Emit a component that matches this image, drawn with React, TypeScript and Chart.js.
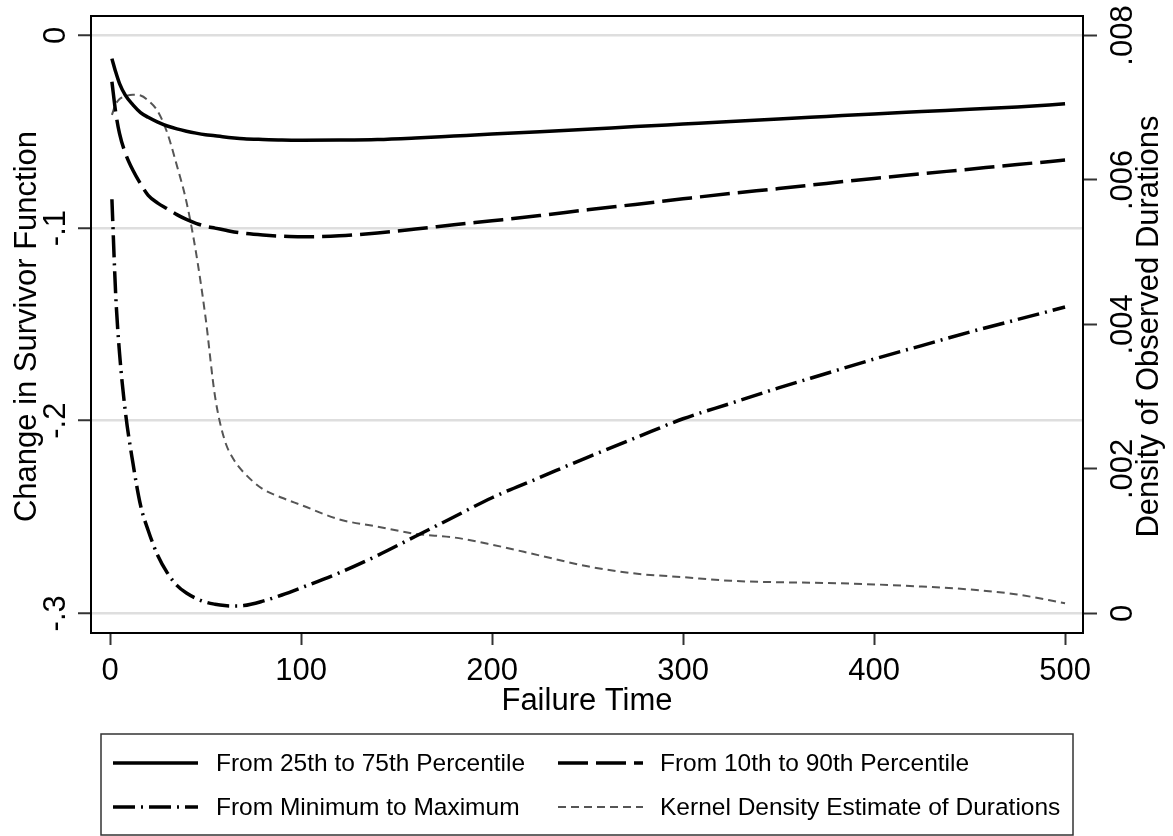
import React, { useEffect, useRef } from "react";
import { Chart, registerables } from "chart.js";

Chart.register(...registerables);

// ---------- data ----------
const times = [1, 3, 5, 8, 12, 16, 20, 25, 30, 35, 40, 45, 50, 55, 60, 65, 70, 80, 90, 100, 120, 140, 160, 180, 200, 225, 250, 275, 300, 325, 350, 375, 400, 425, 450, 475, 500];

const p25to75 = [-0.012, -0.019, -0.025, -0.031, -0.036, -0.040, -0.0425, -0.045, -0.047, -0.0485, -0.0497, -0.0507, -0.0515, -0.052, -0.0527, -0.0532, -0.0536, -0.054, -0.0543, -0.0544, -0.0543, -0.054, -0.0532, -0.0522, -0.0512, -0.050, -0.0487, -0.0473, -0.046, -0.0447, -0.0433, -0.042, -0.0407, -0.0395, -0.0383, -0.0371, -0.0355];

const p10to90 = [-0.024, -0.040, -0.051, -0.061, -0.070, -0.077, -0.083, -0.087, -0.090, -0.093, -0.0955, -0.0975, -0.099, -0.100, -0.101, -0.102, -0.1027, -0.1036, -0.1042, -0.1045, -0.1040, -0.1025, -0.1005, -0.0983, -0.0962, -0.0935, -0.0905, -0.0877, -0.0848, -0.082, -0.0795, -0.0768, -0.0742, -0.0718, -0.0694, -0.067, -0.0647];

const minToMax = [-0.085, -0.135, -0.165, -0.195, -0.222, -0.244, -0.257, -0.270, -0.279, -0.2855, -0.2895, -0.2922, -0.2942, -0.2953, -0.296, -0.2962, -0.296, -0.2937, -0.2905, -0.2868, -0.279, -0.270, -0.260, -0.250, -0.240, -0.2295, -0.219, -0.209, -0.199, -0.191, -0.183, -0.1755, -0.168, -0.161, -0.154, -0.1475, -0.141];

const kernelDensity = [0.0069, 0.00705, 0.00712, 0.00716, 0.00718, 0.00717, 0.0071, 0.00695, 0.00665, 0.0062, 0.0057, 0.0050, 0.0041, 0.0030, 0.0024, 0.00212, 0.00195, 0.00172, 0.0016, 0.0015, 0.0013, 0.0012, 0.0011, 0.00105, 0.00095, 0.0008, 0.00065, 0.00055, 0.0005, 0.00045, 0.00043, 0.00042, 0.0004, 0.00037, 0.00033, 0.00026, 0.00014];

const seriesNames = [
  "From 25th to 75th Percentile",
  "From 10th to 90th Percentile",
  "From Minimum to Maximum",
  "Kernel Density Estimate of Durations",
];

const xTicks = [0, 100, 200, 300, 400, 500];
const xTickLabels = ["0", "100", "200", "300", "400", "500"];
const yLeftTicks = [0, -0.1, -0.2, -0.3];
const yLeftLabels = ["0", "-.1", "-.2", "-.3"];
const yRightTicks = [0, 0.002, 0.004, 0.006, 0.008];
const yRightLabels = ["0", ".002", ".004", ".006", ".008"];

const xTitle = "Failure Time";
const yLeftTitle = "Change in Survivor Function";
const yRightTitle = "Density of Observed Durations";

const FONT = "'Liberation Sans', Arial, Helvetica, sans-serif";

const toPoints = (ys: number[]) => times.map((t, i) => ({ x: t, y: ys[i] }));

const decorPlugin = {
  id: "decor",
  afterDraw(chart: any) {
    const ctx = chart.ctx as CanvasRenderingContext2D;
    const area = chart.chartArea;
    const sx = chart.scales.x;
    const sy = chart.scales.y;
    const sy2 = chart.scales.y2;
    ctx.save();

    // plot box
    ctx.strokeStyle = "#000";
    ctx.lineWidth = 2;
    ctx.setLineDash([]);
    ctx.strokeRect(area.left, area.top, area.right - area.left, area.bottom - area.top);

    ctx.fillStyle = "#000";
    ctx.font = `31px ${FONT}`;

    // x tick labels
    ctx.textAlign = "center";
    ctx.textBaseline = "alphabetic";
    xTicks.forEach((v, i) => {
      ctx.fillText(xTickLabels[i], sx.getPixelForValue(v), 680);
    });

    // rotated y tick labels
    const rotText = (text: string, x: number, y: number) => {
      ctx.save();
      ctx.translate(x, y);
      ctx.rotate(-Math.PI / 2);
      ctx.textAlign = "center";
      ctx.textBaseline = "alphabetic";
      ctx.fillText(text, 0, 0);
      ctx.restore();
    };
    yLeftTicks.forEach((v, i) => rotText(yLeftLabels[i], 65, sy.getPixelForValue(v)));
    yRightTicks.forEach((v, i) => rotText(yRightLabels[i], 1132, sy2.getPixelForValue(v)));

    // axis titles
    ctx.font = `31px ${FONT}`;
    const midY = (area.top + area.bottom) / 2;
    rotText(yLeftTitle, 36, midY + 2);
    rotText(yRightTitle, 1158, midY + 2);
    ctx.textAlign = "center";
    ctx.textBaseline = "alphabetic";
    ctx.fillText(xTitle, (area.left + area.right) / 2, 710);

    // legend
    const lx = 101, ly = 734, lw = 972, lh = 101;
    ctx.strokeStyle = "#333";
    ctx.lineWidth = 1.5;
    ctx.strokeRect(lx, ly, lw, lh);
    const slots = [
      { x0: 113, x1: 198, tx: 216, y: 763 },
      { x0: 558, x1: 643, tx: 660, y: 763 },
      { x0: 113, x1: 198, tx: 216, y: 807 },
      { x0: 558, x1: 643, tx: 660, y: 807 },
    ];
    ctx.font = `24.5px ${FONT}`;
    chart.data.datasets.forEach((ds: any, i: number) => {
      const s = slots[i];
      ctx.save();
      ctx.strokeStyle = ds.borderColor;
      ctx.lineWidth = ds.borderWidth;
      ctx.setLineDash(ds.borderDash || []);
      ctx.lineCap = "butt";
      ctx.beginPath();
      ctx.moveTo(s.x0, s.y);
      ctx.lineTo(s.x1, s.y);
      ctx.stroke();
      ctx.restore();
      ctx.fillStyle = "#000";
      ctx.textAlign = "left";
      ctx.textBaseline = "middle";
      ctx.fillText(ds.label, s.tx, s.y + 1);
    });

    ctx.restore();
  },
};

export default function App() {
  const ref = useRef<HTMLCanvasElement | null>(null);

  useEffect(() => {
    document.body.style.margin = "0";
    const canvas = ref.current;
    if (!canvas) return;
    const common = { pointRadius: 0, pointHoverRadius: 0, fill: false, cubicInterpolationMode: "monotone" as const };
    const chart = new Chart(canvas, {
      type: "line",
      data: {
        datasets: [
          { label: seriesNames[0], data: toPoints(p25to75), borderColor: "#000", borderWidth: 3.5, yAxisID: "y", ...common },
          { label: seriesNames[1], data: toPoints(p10to90), borderColor: "#000", borderWidth: 3.5, borderDash: [30, 8], yAxisID: "y", ...common },
          { label: seriesNames[2], data: toPoints(minToMax), borderColor: "#000", borderWidth: 3.5, borderDash: [22, 6, 2, 6], yAxisID: "y", ...common },
          { label: seriesNames[3], data: toPoints(kernelDensity), borderColor: "#555", borderWidth: 2, borderDash: [8, 5], yAxisID: "y2", ...common },
        ],
      },
      options: {
        responsive: false,
        animation: false,
        events: [],
        layout: { padding: { top: 16, left: 0, right: 0, bottom: 0 } },
        plugins: { legend: { display: false }, tooltip: { enabled: false } },
        scales: {
          x: {
            type: "linear",
            min: -9.95,
            max: 509.4,
            afterBuildTicks: (s: any) => { s.ticks = xTicks.map((v) => ({ value: v })); },
            afterFit: (s: any) => { s.height = 203; },
            grid: { drawOnChartArea: false, drawTicks: true, tickLength: 12, tickColor: "#333", tickWidth: 2 },
            border: { display: false },
            ticks: { display: false },
          },
          y: {
            position: "left",
            min: -0.31023,
            max: 0.01012,
            afterBuildTicks: (s: any) => { s.ticks = yLeftTicks.map((v) => ({ value: v })); },
            afterFit: (s: any) => { s.width = 91; },
            grid: { color: "#dedede", lineWidth: 2.5, tickLength: 13, tickColor: "#333", tickWidth: 2 },
            border: { display: false },
            ticks: { display: false },
          },
          y2: {
            position: "right",
            min: -0.000273,
            max: 0.00827,
            afterBuildTicks: (s: any) => { s.ticks = yRightTicks.map((v) => ({ value: v })); },
            afterFit: (s: any) => { s.width = 90; },
            grid: { drawOnChartArea: false, tickLength: 14, tickColor: "#333", tickWidth: 2 },
            border: { display: false },
            ticks: { display: false },
          },
        },
      },
      plugins: [decorPlugin],
    } as any);
    return () => chart.destroy();
  }, []);

  return <canvas ref={ref} width={1173} height={836} style={{ display: "block" }} />;
}
